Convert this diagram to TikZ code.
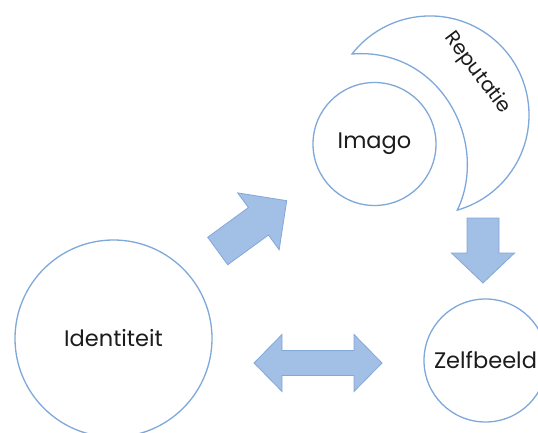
\documentclass[tikz,border=0pt]{standalone}
\usepackage{fontspec}
\setmainfont{Poppins}
\definecolor{ringblue}{HTML}{7FA8DA}
\definecolor{arrowfill}{HTML}{A2BFE6}
\definecolor{arrowline}{HTML}{82A8D9}
\definecolor{labelink}{HTML}{1C1C1C}
\tikzset{
  ring/.style={circle, draw=ringblue, line width=1.3pt, fill=white, inner sep=0pt,
               text=labelink, font=\fontsize{22.5}{26}\selectfont},
  arrowstyle/.style={fill=arrowfill, draw=arrowline, line width=0.8pt, line join=miter},
  % single block arrow: length, head length, shaft half width, head half width
  pics/blockarrow/.style n args={4}{code={
    \filldraw[arrowstyle] (0,-#3) -- ({#1-#2},-#3) -- ({#1-#2},-#4) -- (#1,0)
      -- ({#1-#2},#4) -- ({#1-#2},#3) -- (0,#3) -- cycle;
  }},
  % double block arrow: half length, head length, shaft half width, head half width
  pics/doublearrow/.style n args={4}{code={
    \filldraw[arrowstyle] (-#1,0) -- ({-#1+#2},#4) -- ({-#1+#2},#3) -- ({#1-#2},#3)
      -- ({#1-#2},#4) -- (#1,0) -- ({#1-#2},-#4) -- ({#1-#2},-#3)
      -- ({-#1+#2},-#3) -- ({-#1+#2},-#4) -- cycle;
  }}
}
\begin{document}
\begin{tikzpicture}[x=1pt, y=1pt]
  \clip (0,0) rectangle (538,432);
  \fill[white] (0,0) rectangle (538,432);

  % crescent around the Imago circle
  \coordinate (moonA) at (352,378);
  \draw[ringblue, line width=1.3pt, fill=white, line join=miter]
    (moonA) arc[start angle=142, end angle=-74, radius=99]
    .. controls (490,290) and (440,385) .. (moonA) -- cycle;
  \node[rotate=-53, text=labelink, font=\fontsize{20}{24}\selectfont, inner sep=0pt]
    (rep) at (477,359) {Reputatie};

  % the three circles
  \node[ring, minimum size=197pt] (id) at (113.5,93.5) {Identiteit};
  \node[ring, minimum size=123pt] (im) at (374.5,288) {Imago};
  \node[ring, minimum size=123pt] (zb) at (485.5,71.5) {Zelfbeeld};

  % block arrows between them
  \coordinate (a1) at (217.7,181);
  \coordinate (a2) at (483,214);
  \coordinate (a3) at (318,69);
  \pic[rotate=36.1] at (a1) {blockarrow={85.4}{35}{17}{35.2}};
  \pic[rotate=-90] at (a2) {blockarrow={65}{30}{16}{31.5}};
  \pic at (a3) {doublearrow={64}{28}{12.5}{28.5}};
\end{tikzpicture}
\end{document}
